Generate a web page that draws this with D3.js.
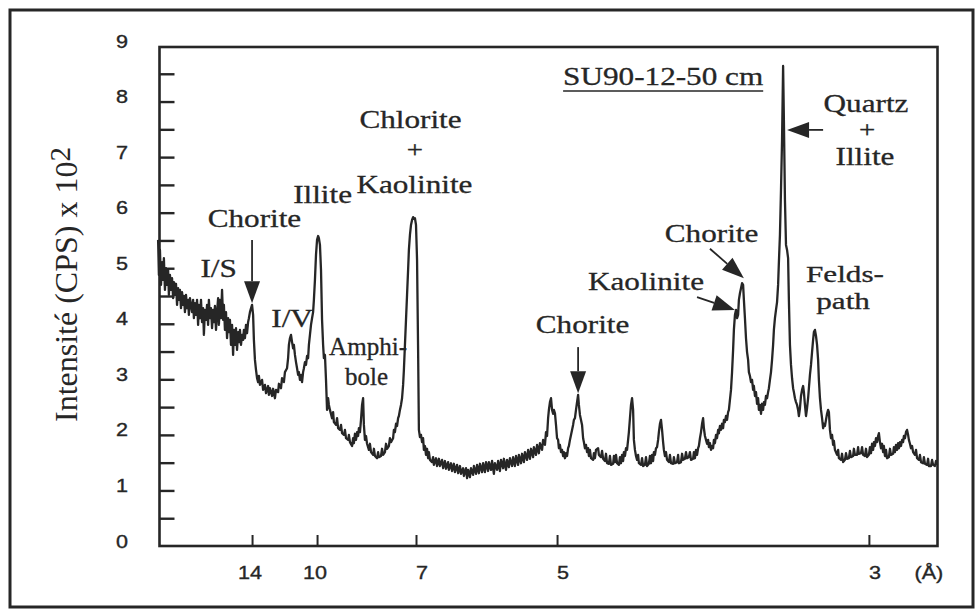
<!DOCTYPE html>
<html>
<head>
<meta charset="utf-8">
<script src="https://cdn.jsdelivr.net/npm/d3@7"></script>
<style>
  html, body { margin: 0; padding: 0; background: #fff; }
  svg { display: block; }
</style>
</head>
<body>
<svg id="chart" width="978" height="609"></svg>
<script>
// X-ray diffractogram, sample SU90-12-50 cm: [2θ (°), intensity (CPS × 10²)]
const scan = [
  [2.74,5.51],[2.77,4.88],[2.81,5.33],[2.85,4.70],[2.89,5.11],[2.93,4.79],[2.96,5.18],[3.00,4.61],[3.04,5.00],[3.08,4.70],[3.12,4.97],[3.15,4.52],[3.19,4.88],[3.23,4.61],[3.27,4.82],[3.31,4.46],[3.34,4.75],[3.38,4.52],[3.42,4.72],[3.46,4.34],[3.50,4.64],[3.53,4.43],[3.57,4.61],[3.61,4.28],[3.65,4.57],[3.69,4.34],[3.72,4.50],[3.76,4.21],[3.80,4.52],[3.84,4.28],[3.88,4.43],[3.91,4.16],[3.95,4.46],
  [4.03,4.21],[4.07,4.43],[4.10,4.10],[4.14,4.37],[4.18,4.16],[4.22,4.43],[4.26,3.98],[4.29,4.34],[4.33,4.10],[4.37,4.43],[4.41,4.03],[4.45,4.28],[4.48,3.80],[4.52,4.25],[4.56,4.07],[4.60,4.34],[4.64,3.98],[4.67,4.43],[4.71,4.10],[4.75,4.28],[4.79,3.92],[4.83,4.25],[4.86,4.03],[4.90,4.32],[4.94,3.89],[4.98,4.21],[5.02,4.46],[5.05,3.98],[5.09,4.43],[5.13,4.10],[5.17,4.61],[5.21,4.07],[5.24,4.34],[5.28,3.89],[5.32,4.21],[5.36,3.74],[5.40,4.10],[5.43,3.85],[5.47,4.07],[5.51,3.62],[5.55,3.98],[5.59,3.44],[5.62,3.89],[5.66,3.62],[5.70,3.92],[5.74,3.53],[5.78,3.85],[5.81,3.67],[5.85,3.89],[5.89,3.62],[5.93,3.80],[5.97,3.71],[6.00,3.89],[6.04,3.74],[6.08,3.98],[6.12,3.83],[6.16,4.03],[6.19,4.10],[6.23,4.21],[6.27,4.28],[6.31,4.34],
  [6.35,4.16],[6.38,3.71],[6.42,3.35],[6.46,3.17],[6.50,3.02],[6.54,2.95],[6.57,3.06],[6.61,2.90],[6.69,2.99],[6.73,2.81],[6.80,2.90],[6.84,2.75],[6.92,2.88],[6.95,2.72],[6.99,2.84],[7.07,2.70],[7.11,2.83],[7.18,2.66],[7.22,2.81],[7.30,2.77],[7.33,2.92],[7.41,2.84],[7.45,3.02],[7.52,2.95],[7.56,3.13],[7.64,3.20],[7.68,3.38],[7.71,3.62],[7.75,3.74],[7.79,3.80],[7.83,3.67],[7.87,3.56],[7.90,3.62],[7.94,3.44],[7.98,3.31],[8.02,3.20],[8.06,3.08],[8.09,3.13],[8.13,2.99],[8.17,3.08],[8.21,2.95],[8.25,3.13],[8.28,3.20],[8.32,3.31],[8.36,3.26],[8.40,3.42],[8.44,3.38],[8.47,3.62],[8.51,3.80],[8.55,3.98],[8.59,4.10],[8.63,4.21],[8.66,4.43],[8.70,4.79],[8.74,5.24],[8.78,5.51],[8.82,5.58],[8.85,5.54],[8.89,5.42],[8.93,4.97],[8.97,4.07],[9.01,3.62],[9.04,3.38],[9.08,3.44],[9.12,2.99],[9.16,2.45],[9.20,2.66],[9.23,2.54],[9.27,2.45],
  [9.35,2.30],[9.39,2.41],[9.42,2.23],[9.50,2.18],[9.54,2.30],[9.58,2.12],[9.65,2.09],[9.69,2.18],[9.73,2.03],[9.80,2.00],[9.84,2.09],[9.88,1.94],[9.96,1.91],[9.99,2.00],[10.03,1.87],[10.11,1.80],[10.15,1.94],[10.18,1.85],[10.22,2.02],[10.26,1.91],[10.30,2.05],[10.34,1.98],[10.37,2.12],[10.41,2.05],[10.45,2.27],[10.49,2.54],[10.53,2.66],[10.56,2.18],[10.60,1.91],[10.64,1.98],[10.68,1.84],[10.75,1.73],[10.79,1.84],[10.83,1.69],[10.91,1.64],[10.94,1.75],[10.98,1.62],[11.06,1.58],[11.10,1.69],[11.13,1.60],[11.21,1.62],[11.25,1.75],[11.29,1.64],[11.36,1.69],[11.40,1.84],[11.44,1.75],[11.51,1.80],[11.55,1.94],[11.59,1.87],[11.67,1.94],[11.70,2.09],[11.74,2.05],[11.78,2.20],[11.82,2.16],[11.86,2.30],[11.89,2.34],[11.93,2.45],[11.97,2.54],[12.01,2.66],[12.05,2.90],[12.08,3.17],[12.12,3.62],[12.16,4.07],[12.20,4.52],[12.24,4.97],[12.27,5.33],[12.31,5.60],[12.35,5.78],[12.39,5.87],[12.43,5.92],[12.46,5.89],[12.50,5.90],[12.54,5.78],[12.58,5.15],[12.62,3.53],
  [12.65,2.09],[12.69,1.96],[12.73,2.00],[12.77,1.87],[12.81,1.94],[12.84,1.73],[12.88,1.80],[12.92,1.64],[12.96,1.75],[13.00,1.58],[13.03,1.69],[13.07,1.55],[13.15,1.51],[13.19,1.60],[13.22,1.46],[13.30,1.58],[13.34,1.44],[13.41,1.57],[13.45,1.44],[13.53,1.55],[13.57,1.40],[13.64,1.53],[13.68,1.39],[13.76,1.51],[13.79,1.37],[13.87,1.49],[13.91,1.35],[13.98,1.48],[14.02,1.33],[14.10,1.46],[14.14,1.31],[14.21,1.44],[14.25,1.30],[14.33,1.40],[14.36,1.26],[14.44,1.40],[14.48,1.22],[14.52,1.37],[14.59,1.24],[14.63,1.40],[14.71,1.28],[14.74,1.44],[14.82,1.30],[14.86,1.46],[14.93,1.31],[14.97,1.48],[15.05,1.33],[15.09,1.49],[15.16,1.33],[15.20,1.51],[15.28,1.35],[15.31,1.51],[15.39,1.37],[15.43,1.53],[15.50,1.30],[15.54,1.49],[15.62,1.37],[15.66,1.53],[15.73,1.35],[15.77,1.55],[15.85,1.40],[15.88,1.57],[15.96,1.37],[16.00,1.55],[16.07,1.42],[16.11,1.58],[16.19,1.44],[16.23,1.60],[16.30,1.44],[16.34,1.62],[16.42,1.46],[16.45,1.64],[16.53,1.49],[16.57,1.66],[16.64,1.51],[16.68,1.69],[16.76,1.55],[16.80,1.73],[16.87,1.57],[16.91,1.75],[16.99,1.60],[17.02,1.78],[17.10,1.64],[17.14,1.82],[17.21,1.67],[17.25,1.85],[17.33,1.73],[17.37,1.91],[17.44,1.82],
  [17.48,2.05],[17.52,1.98],[17.56,2.30],[17.59,2.45],[17.63,2.59],[17.67,2.66],[17.71,2.45],[17.75,2.38],[17.78,2.45],[17.82,2.39],[17.86,2.18],[17.90,1.94],[17.94,1.91],[17.97,1.76],[18.01,1.82],[18.05,1.69],[18.09,1.73],[18.13,1.62],[18.16,1.69],[18.20,1.58],[18.24,1.67],[18.28,1.62],[18.32,1.76],[18.35,1.80],[18.39,1.91],[18.43,2.00],[18.47,2.09],[18.51,2.18],[18.54,2.27],[18.58,2.30],[18.62,2.45],[18.66,2.59],[18.70,2.72],[18.73,2.54],[18.77,2.36],[18.81,2.27],[18.85,2.18],[18.89,1.94],[18.92,1.87],[18.96,1.76],[19.00,1.82],[19.04,1.69],[19.08,1.76],[19.11,1.62],[19.15,1.73],[19.19,1.58],[19.27,1.55],[19.30,1.67],[19.34,1.58],[19.38,1.73],[19.46,1.76],[19.49,1.64],[19.57,1.60],[19.61,1.71],[19.65,1.57],[19.72,1.53],[19.76,1.66],[19.80,1.49],[19.87,1.48],[19.91,1.62],[19.95,1.46],[20.03,1.48],[20.06,1.62],[20.10,1.51],[20.14,1.64],[20.18,1.49],[20.25,1.46],[20.29,1.60],[20.33,1.49],[20.37,1.64],[20.41,1.53],[20.44,1.69],[20.48,1.62],[20.52,1.76],[20.56,1.73],[20.60,1.91],[20.63,2.05],[20.67,2.30],[20.71,2.54],[20.75,2.66],[20.79,2.45],[20.82,1.91],[20.86,1.73],[20.90,1.62],[20.94,1.55],[20.98,1.64],[21.01,1.49],
  [21.09,1.46],[21.13,1.58],[21.17,1.44],[21.24,1.46],[21.28,1.60],[21.32,1.44],[21.39,1.48],[21.43,1.62],[21.47,1.49],[21.51,1.64],[21.55,1.53],[21.58,1.69],[21.62,1.64],[21.66,1.76],[21.70,1.78],[21.74,1.91],[21.77,2.05],[21.81,2.20],[21.85,2.27],[21.89,2.09],[21.93,1.87],[21.96,1.73],[22.00,1.62],[22.04,1.69],[22.08,1.55],[22.15,1.51],[22.19,1.64],[22.23,1.49],[22.31,1.48],[22.34,1.60],[22.38,1.49],[22.46,1.51],[22.50,1.64],[22.53,1.49],[22.61,1.51],[22.65,1.66],[22.69,1.55],[22.76,1.57],[22.80,1.69],[22.84,1.58],[22.91,1.60],[22.95,1.69],[22.99,1.55],[23.07,1.57],[23.10,1.69],[23.14,1.58],[23.18,1.73],[23.22,1.64],[23.26,1.76],[23.29,1.80],[23.33,1.94],[23.37,2.05],[23.41,2.20],[23.45,2.30],[23.48,2.12],[23.52,1.98],[23.56,1.91],[23.60,1.84],[23.64,1.91],[23.67,1.78],[23.71,1.85],[23.75,1.73],[23.79,1.80],[23.83,1.76],[23.86,1.91],[23.90,1.85],[23.94,2.00],[23.98,1.94],[24.02,2.09],[24.05,2.03],[24.09,2.16],[24.13,2.09],[24.17,2.20],[24.21,2.12],[24.24,2.27],[24.28,2.23],[24.32,2.34],[24.36,2.27],[24.40,2.41],[24.43,2.45],[24.47,2.63],
  [24.51,2.81],[24.55,3.13],[24.59,3.53],[24.62,3.89],[24.66,4.16],[24.70,4.25],[24.74,4.10],[24.78,4.16],[24.81,4.43],[24.85,4.55],[24.89,4.64],[24.93,4.73],[24.97,4.70],[25.00,4.43],[25.04,4.10],[25.08,3.74],[25.12,3.49],[25.16,3.35],[25.19,3.13],[25.23,3.06],[25.27,2.95],[25.31,2.99],[25.35,2.81],[25.38,2.88],[25.42,2.70],[25.46,2.77],[25.50,2.56],[25.54,2.66],[25.57,2.45],[25.61,2.54],[25.65,2.38],[25.69,2.56],[25.73,2.45],[25.76,2.59],[25.80,2.54],[25.84,2.70],[25.88,2.66],[25.92,2.77],[25.95,2.84],[25.99,2.99],[26.03,3.13],[26.07,3.35],[26.11,3.62],[26.14,3.89],[26.18,4.10],[26.22,4.25],[26.26,4.39],[26.30,4.70],[26.33,5.11],[26.37,5.60],[26.41,6.41],[26.45,7.31],[26.49,8.64],[26.52,7.67],[26.56,6.23],[26.60,5.42],[26.64,5.33],[26.68,5.18],[26.71,4.43],[26.75,3.62],
  [26.79,3.26],[26.83,3.02],[26.87,2.84],[26.90,2.77],[26.94,2.66],[26.98,2.59],[27.02,2.54],[27.06,2.45],[27.09,2.34],[27.13,2.48],[27.17,2.70],[27.21,2.81],[27.25,2.88],[27.28,2.77],[27.32,2.54],[27.36,2.34],[27.40,2.48],[27.44,2.66],[27.47,2.84],[27.51,3.08],[27.55,3.26],[27.59,3.49],[27.63,3.71],[27.66,3.85],[27.70,3.89],[27.74,3.78],[27.78,3.62],[27.82,3.35],[27.85,2.99],[27.89,2.66],[27.93,2.45],[27.97,2.30],[28.01,2.12],[28.04,2.20],[28.08,2.16],[28.12,2.27],[28.16,2.38],[28.20,2.45],[28.23,2.41],[28.27,2.09],[28.31,1.94],[28.35,2.00],[28.39,1.82],[28.42,1.89],[28.46,1.73],
  [28.54,1.64],[28.58,1.73],[28.61,1.58],[28.69,1.55],[28.73,1.66],[28.77,1.51],[28.84,1.55],[28.88,1.67],[28.92,1.57],[28.99,1.58],[29.03,1.71],[29.07,1.60],[29.15,1.62],[29.18,1.75],[29.22,1.64],[29.30,1.64],[29.34,1.78],[29.37,1.66],[29.45,1.67],[29.49,1.78],[29.53,1.64],[29.60,1.62],[29.64,1.75],[29.68,1.60],[29.75,1.64],[29.79,1.78],[29.83,1.67],[29.87,1.84],[29.91,1.73],[29.94,1.87],[29.98,1.80],[30.02,1.94],[30.06,1.87],[30.10,1.98],[30.13,2.03],[30.17,1.87],[30.21,1.76],[30.25,1.84],[30.29,1.69],[30.32,1.80],[30.36,1.62],[30.40,1.73],[30.44,1.58],[30.51,1.60],[30.55,1.75],[30.59,1.64],[30.67,1.66],[30.70,1.78],[30.74,1.69],[30.78,1.82],[30.82,1.73],[30.86,1.85],[30.89,1.76],[30.93,1.87],[30.97,1.80],[31.01,1.91],[31.05,1.87],[31.08,1.98],[31.12,1.94],[31.16,2.05],[31.20,2.09],[31.24,2.00],[31.27,1.91],[31.31,1.84],[31.35,1.76],[31.39,1.80],[31.43,1.69],[31.50,1.64],[31.54,1.73],[31.58,1.58],[31.65,1.55],[31.69,1.64],[31.73,1.51],[31.81,1.49],[31.84,1.60],[31.88,1.48],[31.96,1.46],[32.00,1.57],[32.03,1.44],[32.11,1.44],[32.15,1.55],[32.19,1.46],[32.26,1.44],[32.30,1.53],[32.34,1.46]
];

// d-spacing labels (Å) and the 2θ positions of their ticks
const dSpacingLabels = ["14", "10", "7", "5", "3"];
const dSpacingTwoTheta = [6.31, 8.78, 12.54, 17.90, 29.75];

// intensity axis: labelled every unit, minor ticks every half unit
const intensityLabels = [0, 1, 2, 3, 4, 5, 6, 7, 8, 9];
const intensityTicks = [0.5, 1, 1.5, 2, 2.5, 3, 3.5, 4, 4.5, 5, 5.5, 6, 6.5, 7, 7.5, 8, 8.5];

// mineral phase annotations, anchored in data coordinates [2θ, intensity]
const phaseLabels = [
  { text: "Chorite",   at: [6.40, 5.74] },
  { text: "I/S",       at: [5.04, 4.84] },
  { text: "I/V",       at: [7.83, 3.94] },
  { text: "Illite",    at: [8.99, 6.17] },
  { text: "Chlorite",  at: [12.33, 7.52] },
  { text: "+",         at: [12.50, 7.00], small: true },
  { text: "Kaolinite", at: [12.48, 6.35] },
  { text: "Amphi-",    at: [10.72, 3.44], fit: 78 },
  { text: "bole",      at: [10.66, 2.90], fit: 43 },
  { text: "Chorite",   at: [18.87, 3.83] },
  { text: "Kaolinite", at: [21.28, 4.61] },
  { text: "Chorite",   at: [23.77, 5.47] },
  { text: "Quartz",    at: [29.64, 7.81] },
  { text: "+",         at: [29.68, 7.36], small: true },
  { text: "Illite",    at: [29.60, 6.86] },
  { text: "Felds-",    at: [28.84, 4.75], compact: true },
  { text: "path",      at: [28.77, 4.26], compact: true }
];

// arrows pointing at reflections: [tail, tip] in [2θ, intensity]
const peakArrows = [
  [[6.31, 5.51], [6.31, 4.37]],
  [[18.70, 3.58], [18.70, 2.75]],
  [[23.22, 4.48], [24.66, 4.25]],
  [[23.71, 5.35], [25.00, 4.82]],
  [[28.01, 7.49], [26.64, 7.49]]
];

const sampleName = "SU90-12-50 cm";

// ---------------------------------------------------------------------------
const ink = "#262626";
const serif = "'Liberation Serif', 'Times New Roman', serif";
const sans = "'Liberation Sans', Arial, Helvetica, sans-serif";
const stretch = 1.2;   // lettering is set slightly wide

const svg = d3.select("#chart");

const x = d3.scaleLinear().domain([2.736, 32.338]).range([158, 937]);
const y = d3.scaleLinear().domain([0, 9]).range([546, 46]);

// outer figure border
svg.append("rect")
  .attr("x", 10).attr("y", 10).attr("width", 963).attr("height", 597)
  .attr("fill", "none").attr("stroke", ink).attr("stroke-width", 3);

// intensity axis with inward ticks
const yAxis = d3.axisLeft(y)
  .tickValues(intensityTicks)
  .tickSizeInner(-15).tickSizeOuter(0)
  .tickFormat("");
const gy = svg.append("g").attr("transform", `translate(${x.range()[0] + 1.5},0)`).call(yAxis);
gy.select(".domain").remove();
gy.selectAll(".tick line").attr("stroke", ink).attr("stroke-width", 2.4);

svg.append("g").selectAll("text")
  .data(intensityLabels)
  .join("text")
  .attr("transform", d => `translate(128,${y(d) + 1.5}) scale(${stretch},1)`)
  .attr("text-anchor", "end")
  .attr("font-family", sans).attr("font-size", 18).attr("fill", ink)
  .attr("stroke", ink).attr("stroke-width", 0.35)
  .text(d => d);

// 2θ axis, labelled in d-spacing, ticks pointing inward
const xAxis = d3.axisBottom(x)
  .tickValues(dSpacingTwoTheta)
  .tickSizeInner(-11).tickSizeOuter(0)
  .tickFormat("");
const gx = svg.append("g").attr("transform", `translate(0,${y(0)})`).call(xAxis);
gx.select(".domain").remove();
gx.selectAll(".tick line").attr("stroke", ink).attr("stroke-width", 2);

svg.append("g").selectAll("text")
  .data(dSpacingTwoTheta)
  .join("text")
  .attr("transform", (d, i) =>
    `translate(${x(d) + (dSpacingLabels[i].length > 1 ? -2 : 6)},${y(0) + 33}) scale(${stretch},1)`)
  .attr("text-anchor", "middle")
  .attr("font-family", sans).attr("font-size", 18).attr("fill", ink)
  .attr("stroke", ink).attr("stroke-width", 0.35)
  .text((d, i) => dSpacingLabels[i]);

svg.append("text")
  .attr("transform", `translate(${x(32.03)},${y(0) + 33}) scale(${stretch},1)`)
  .attr("text-anchor", "middle")
  .attr("font-family", sans).attr("font-size", 18).attr("fill", ink)
  .attr("stroke", ink).attr("stroke-width", 0.35)
  .text("(Å)");

// plot frame
svg.append("rect")
  .attr("x", x.range()[0] + 1.5).attr("y", y(9) + 1)
  .attr("width", x.range()[1] - x.range()[0] - 1)
  .attr("height", y(0) - y(9) - 1)
  .attr("fill", "none").attr("stroke", ink).attr("stroke-width", 2.6);

// y-axis title with superscript exponent
const yTitle = svg.append("text")
  .attr("transform", "translate(77,422) rotate(-90)")
  .attr("font-family", serif).attr("font-size", 32).attr("fill", ink);
yTitle.append("tspan").text("Intensité (CPS) x 10");
yTitle.append("tspan").attr("dy", -7).attr("font-size", 29).text("2");

// diffraction trace
const line = d3.line().x(d => x(d[0])).y(d => y(d[1]));
svg.append("path")
  .datum(scan)
  .attr("d", line)
  .attr("fill", "none")
  .attr("stroke", ink)
  .attr("stroke-width", 2.3)
  .attr("stroke-linejoin", "round");

// sample name, underlined
const nameText = svg.append("text")
  .attr("transform", `translate(${x(18.13)},${y(8.30)}) scale(${stretch},1)`)
  .attr("font-family", serif).attr("font-size", 26).attr("fill", ink)
  .attr("stroke", ink).attr("stroke-width", 0.3)
  .text(sampleName);
const nameWidth = nameText.node().getComputedTextLength() * stretch;
svg.append("line")
  .attr("x1", x(18.13)).attr("x2", x(18.13) + nameWidth)
  .attr("y1", y(8.19)).attr("y2", y(8.19))
  .attr("stroke", ink).attr("stroke-width", 1.6);

// phase labels
phaseLabels.forEach(p => {
  const size = p.small ? 24 : p.compact ? 24 : 26;
  const sx = p.compact ? 1.3 : stretch;
  const t = svg.append("text")
    .attr("font-family", serif).attr("font-size", size).attr("fill", ink)
    .attr("stroke", ink).attr("stroke-width", 0.3)
    .attr("text-anchor", "middle")
    .text(p.text);
  if (p.fit) {
    t.attr("x", x(p.at[0])).attr("y", y(p.at[1]))
      .attr("textLength", p.fit).attr("lengthAdjust", "spacingAndGlyphs");
  } else {
    t.attr("transform", `translate(${x(p.at[0])},${y(p.at[1])}) scale(${sx},1)`);
  }
});

// arrows
const arrowG = svg.append("g");
peakArrows.forEach(([from, to]) => {
  const x1 = x(from[0]), y1 = y(from[1]);
  const x2 = x(to[0]), y2 = y(to[1]);
  const len = Math.hypot(x2 - x1, y2 - y1);
  const ux = (x2 - x1) / len, uy = (y2 - y1) / len;
  const headLen = 22, headHalf = 8;
  const bx = x2 - ux * headLen, by = y2 - uy * headLen;
  arrowG.append("line")
    .attr("x1", x1).attr("y1", y1).attr("x2", bx).attr("y2", by)
    .attr("stroke", ink).attr("stroke-width", 1.8);
  arrowG.append("path")
    .attr("d", `M${x2},${y2}L${bx - uy * headHalf},${by + ux * headHalf}L${bx + uy * headHalf},${by - ux * headHalf}Z`)
    .attr("fill", ink);
});
</script>
</body>
</html>
